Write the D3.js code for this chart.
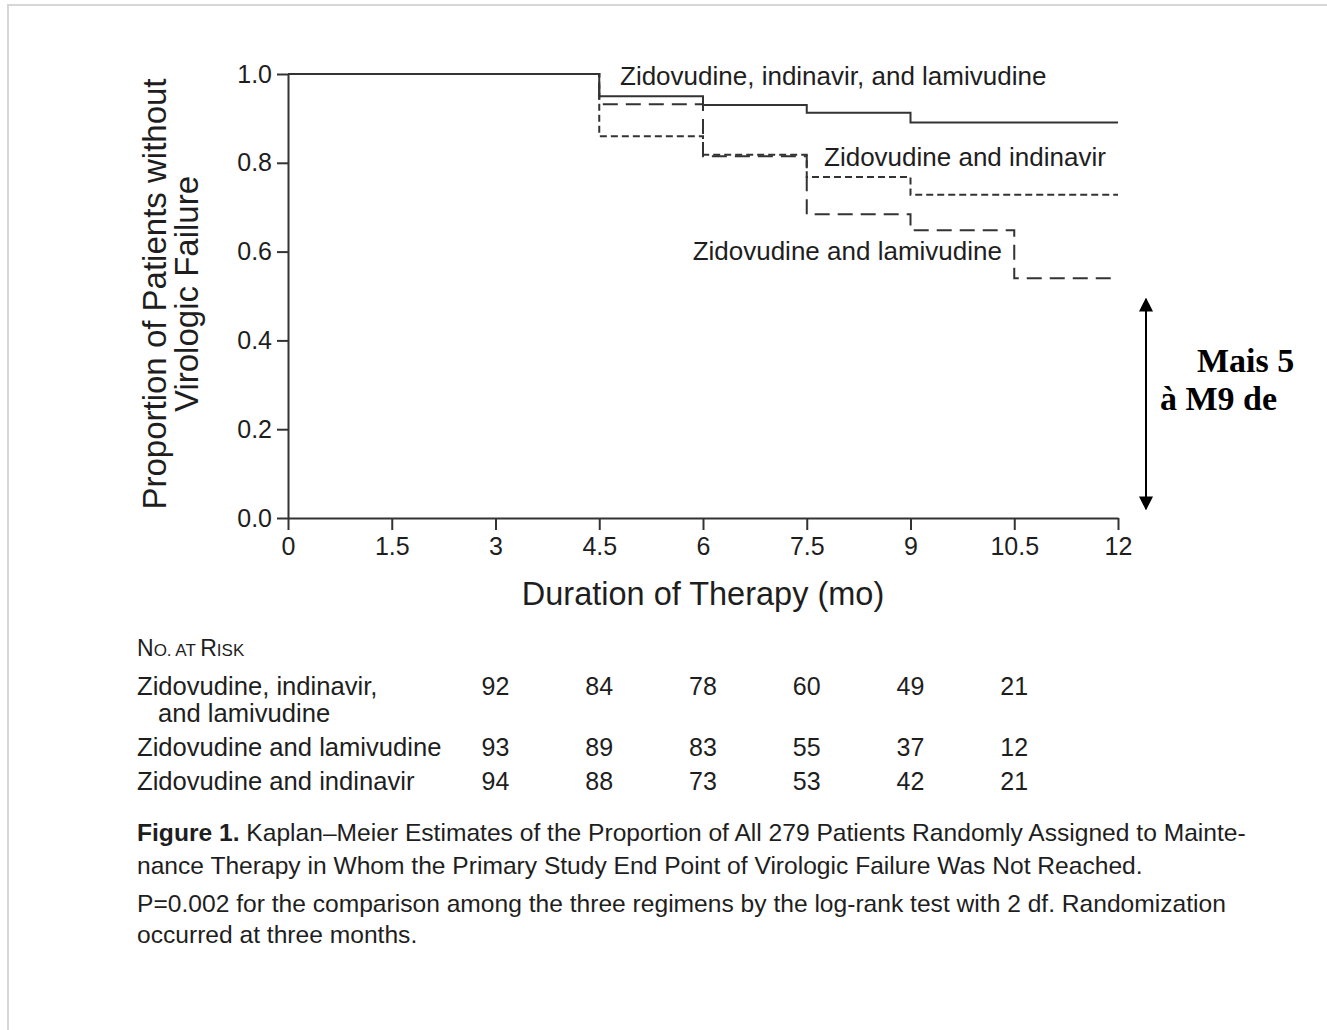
<!DOCTYPE html>
<html>
<head>
<meta charset="utf-8">
<script src="https://cdn.jsdelivr.net/npm/d3@7"></script>
<style>
body { margin: 0; background: #fff; }
svg { display: block; }
</style>
</head>
<body>
<div id="chart"></div>
<script>
// tick values
var xTicks = [0, 1.5, 3, 4.5, 6, 7.5, 9, 10.5, 12];
var yTicks = [0, 0.2, 0.4, 0.6, 0.8, 1.0];

// Kaplan-Meier steps (months at which the curves change)
var stepMonths = [0, 4.5, 6, 7.5, 9, 10.5, 12];
var survZIL = [1.0, 0.95, 0.93, 0.913, 0.891, 0.891, 0.891];
var survZL = [1.0, 0.932, 0.815, 0.684, 0.648, 0.54, 0.54];
var survZI = [1.0, 0.86, 0.818, 0.768, 0.728, 0.728, 0.728];

// number at risk table
var riskMonths = [3, 4.5, 6, 7.5, 9, 10.5];
var riskZIL = [92, 84, 78, 60, 49, 21];
var riskZL = [93, 89, 83, 55, 37, 12];
var riskZI = [94, 88, 73, 53, 42, 21];

var captionLines = [
	"nance Therapy in Whom the Primary Study End Point of Virologic Failure Was Not Reached.",
	"P=0.002 for the comparison among the three regimens by the log-rank test with 2 df. Randomization",
	"occurred at three months."
];

var width = 1327, height = 1030;
var plotLeft = 288, plotTop = 74, plotW = 830, plotH = 444;
var sans = "'Liberation Sans', Arial, Helvetica, sans-serif";
var ink = "#333", textInk = "#1e1e1e";

var x = d3.scaleLinear().domain([0, 12]).range([plotLeft, plotLeft + plotW]);
var y = d3.scaleLinear().domain([0, 1]).range([plotTop + plotH, plotTop]);

var svg = d3.select("#chart").append("svg")
	.attr("width", width)
	.attr("height", height);

svg.append("rect").attr("width", width).attr("height", height).attr("fill", "#fff");

// slide frame
svg.append("path")
	.attr("d", "M8," + height + "V5H" + width)
	.attr("fill", "none")
	.attr("stroke", "#d6d6d6")
	.attr("stroke-width", 2);

// axes
var xAxis = d3.axisBottom(x)
	.tickValues(xTicks)
	.tickFormat(d3.format(""))
	.tickSize(12)
	.tickSizeOuter(0)
	.tickPadding(7);

var yAxis = d3.axisLeft(y)
	.tickValues(yTicks)
	.tickFormat(d3.format(".1f"))
	.tickSize(11)
	.tickSizeOuter(0)
	.tickPadding(5);

var gx = svg.append("g")
	.attr("transform", "translate(0," + y(0) + ")")
	.call(xAxis);
var gy = svg.append("g")
	.attr("transform", "translate(" + x(0) + ",0)")
	.call(yAxis);

[gx, gy].forEach(function (g) {
	g.selectAll("path, line").attr("stroke", ink).attr("stroke-width", 2);
	g.selectAll("text")
		.attr("fill", textInk)
		.style("font-family", sans)
		.style("font-size", "25px");
});

// curves
var line = d3.line()
	.x(function (d, i) { return x(stepMonths[i]); })
	.y(function (d) { return y(d); })
	.curve(d3.curveStepAfter);

function drawCurve(values, dash) {
	svg.append("path")
		.datum(values)
		.attr("fill", "none")
		.attr("stroke", ink)
		.attr("stroke-width", 2)
		.attr("stroke-dasharray", dash)
		.attr("d", line);
}

drawCurve(survZL, "15,8");
drawCurve(survZI, "7,4");
drawCurve(survZIL, null);

// curve labels
function label(txt, px, py) {
	svg.append("text")
		.attr("x", px)
		.attr("y", py)
		.attr("fill", textInk)
		.style("font-family", sans)
		.style("font-size", "26px")
		.text(txt);
}
label("Zidovudine, indinavir, and lamivudine", x(4.8), y(0.975));
label("Zidovudine and indinavir", x(7.75), y(0.793));
label("Zidovudine and lamivudine", x(5.85), y(0.581));

// axis titles
svg.append("text")
	.attr("x", x(6))
	.attr("y", 605)
	.attr("text-anchor", "middle")
	.attr("fill", textInk)
	.style("font-family", sans)
	.style("font-size", "32.5px")
	.text("Duration of Therapy (mo)");

var yMid = (y(0) + y(1)) / 2;
["Proportion of Patients without", "Virologic Failure"].forEach(function (t, i) {
	svg.append("text")
		.attr("transform", "translate(" + (166 + i * 32) + "," + (yMid - 2) + ") rotate(-90)")
		.attr("text-anchor", "middle")
		.attr("fill", textInk)
		.style("font-family", sans)
		.style("font-size", "33px")
		.text(t);
});

// number at risk
var head = svg.append("text")
	.attr("x", 137)
	.attr("y", 656)
	.attr("fill", textInk)
	.style("font-family", sans);
head.append("tspan").style("font-size", "23px").text("N");
head.append("tspan").style("font-size", "17px").text("O. AT ");
head.append("tspan").style("font-size", "23px").text("R");
head.append("tspan").style("font-size", "17px").text("ISK");

var rows = [
	{ lines: ["Zidovudine, indinavir,", "and lamivudine"], counts: riskZIL, base: 695 },
	{ lines: ["Zidovudine and lamivudine"], counts: riskZL, base: 756 },
	{ lines: ["Zidovudine and indinavir"], counts: riskZI, base: 790 }
];

rows.forEach(function (row) {
	row.lines.forEach(function (t, i) {
		svg.append("text")
			.attr("x", i === 0 ? 137 : 158)
			.attr("y", row.base + i * 27)
			.attr("fill", textInk)
			.style("font-family", sans)
			.style("font-size", "25.6px")
			.text(t);
	});
	svg.append("g").selectAll("text")
		.data(row.counts)
		.join("text")
		.attr("x", function (d, i) { return x(riskMonths[i]); })
		.attr("y", row.base)
		.attr("text-anchor", "middle")
		.attr("fill", textInk)
		.style("font-family", sans)
		.style("font-size", "25px")
		.text(function (d) { return d; });
});

// caption
var cap = svg.append("text")
	.attr("x", 137)
	.attr("y", 841)
	.attr("fill", textInk)
	.style("font-family", sans)
	.style("font-size", "24.6px");
cap.append("tspan").style("font-weight", "bold").text("Figure 1.");
cap.append("tspan").text(" Kaplan\u2013Meier Estimates of the Proportion of All 279 Patients Randomly Assigned to Mainte-");

var capBases = [874, 912, 943];
captionLines.forEach(function (t, i) {
	svg.append("text")
		.attr("x", 137)
		.attr("y", capBases[i])
		.attr("fill", textInk)
		.style("font-family", sans)
		.style("font-size", "24.6px")
		.text(t);
});

// double arrow and note
var defs = svg.append("defs");
defs.append("marker")
	.attr("id", "head")
	.attr("viewBox", "0 0 10 10")
	.attr("refX", 9)
	.attr("refY", 5)
	.attr("markerWidth", 7)
	.attr("markerHeight", 7)
	.attr("orient", "auto-start-reverse")
	.append("path")
	.attr("d", "M0,0L10,5L0,10Z")
	.attr("fill", "#000");

svg.append("line")
	.attr("x1", 1146).attr("x2", 1146)
	.attr("y1", 299).attr("y2", 509)
	.attr("stroke", "#000")
	.attr("stroke-width", 2)
	.attr("marker-start", "url(#head)")
	.attr("marker-end", "url(#head)");

var serif = "'Liberation Serif', 'Times New Roman', serif";
var note = svg.append("text")
	.attr("fill", "#000")
	.style("font-family", serif)
	.style("font-weight", "bold")
	.style("font-size", "34px");
note.append("tspan").attr("x", 1197).attr("y", 372).text("Mais 5");
note.append("tspan").attr("x", 1160).attr("y", 410).text("\u00e0 M9 de");
</script>
</body>
</html>
